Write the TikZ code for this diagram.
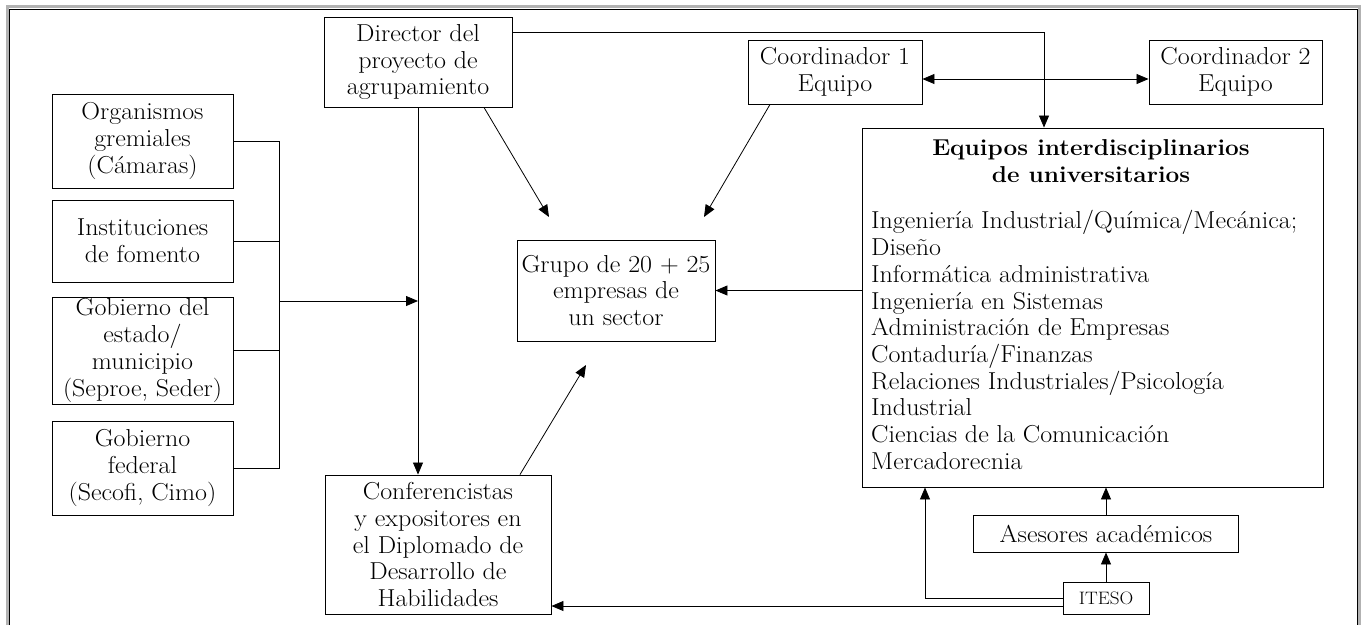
\documentclass[tikz,border=0pt]{standalone}
\usepackage{fontspec}
\setmainfont{Latin Modern Roman}[FakeStretch=1.06]
\usetikzlibrary{arrows.meta}

\begin{document}
\begin{tikzpicture}[x=1pt, y=-1pt,
  caja/.style={draw, line width=0.9pt, align=center, inner sep=0pt, font=\fontsize{24.5}{26.7}\selectfont},
  texto/.style={inner sep=0pt, font=\fontsize{24.5}{26.7}\selectfont},
  flecha/.style={line width=0.8pt, -{Triangle[length=12pt, width=10pt]}},
  doble/.style={line width=0.8pt, {Triangle[length=12pt, width=10pt]}-{Triangle[length=12pt, width=10pt]}},
  linea/.style={line width=0.8pt}]
\useasboundingbox (0,0) rectangle (1365,625);
\draw[gray!60, line width=3pt] (7.5,625) -- (7.5,6.5) -- (1359.5,6.5) -- (1359.5,625);
\draw[line width=0.8pt] (9.5,625) -- (9.5,9) -- (1357.5,9) -- (1357.5,625);

\node[caja, minimum width=188pt, minimum height=90pt] (dir) at (418,62) {Director del\\proyecto de\\agrupamiento};
\node[caja, minimum width=181pt, minimum height=94pt] (org) at (142.5,141) {Organismos\\gremiales\\(Cámaras)};
\node[caja, minimum width=181pt, minimum height=82pt] (inst) at (142.5,241) {Instituciones\\de fomento};
\node[caja, minimum width=181pt, minimum height=107pt] (gobe) at (142.5,350.5) {Gobierno del\\estado/\\municipio\\(Seproe, Seder)};
\node[caja, minimum width=181pt, minimum height=94pt] (gobf) at (142.5,468) {Gobierno\\federal\\(Secofi, Cimo)};
\node[caja, minimum width=198pt, minimum height=101pt] (grupo) at (616,290.5) {Grupo de 20 + 25\\empresas de\\un sector};
\node[caja, minimum width=226pt, minimum height=139pt] (conf) at (438,544.5) {Conferencistas\\y expositores en\\el Diplomado de\\Desarrollo de\\Habilidades};
\node[caja, minimum width=174pt, minimum height=64pt] (coordA) at (835,72) {Coordinador 1\\Equipo};
\node[caja, minimum width=173pt, minimum height=64pt] (coordB) at (1235.5,72) {Coordinador 2\\Equipo};
\node[caja, minimum width=461pt, minimum height=359pt] (equipos) at (1092.5,307.5) {};
\node[texto, align=center, font=\fontsize{23}{27}\selectfont\bfseries] (eqtit) at (1091,161.5) {Equipos interdisciplinarios\\de universitarios};
\node[texto, align=left, anchor=west] (eqlista) at (871,340) {Ingeniería Industrial/Química/Mecánica;\\Diseño\\Informática administrativa\\Ingeniería en Sistemas\\Administración de Empresas\\Contaduría/Finanzas\\Relaciones Industriales/Psicología\\Industrial\\Ciencias de la Comunicación\\Mercadorecnia};
\node[caja, minimum width=265pt, minimum height=37pt] (ases) at (1106,533.5) {Asesores académicos};
\node[caja, minimum width=86pt, minimum height=32pt, font=\fontsize{18}{22}\selectfont] (iteso) at (1106,598) {ITESO};

\coordinate (bus) at (279,301);
\coordinate (pA) at (549,217);
\coordinate (pB) at (704,217);
\coordinate (pC) at (586,365);

\draw[linea] (org.east) -- (org.east -| bus) -- (gobf.east -| bus) -- (gobf.east);
\draw[linea] (inst.east) -- (inst.east -| bus);
\draw[linea] (gobe.east) -- (gobe.east -| bus);
\draw[flecha] (bus) -- (bus -| dir.south);
\draw[flecha] (dir.south) -- (dir.south |- conf.north);
\draw[flecha] ([xshift=66pt]dir.south) -- (pA);
\draw[flecha] ([xshift=-65pt]coordA.south) -- (pB);
\draw[flecha] ([xshift=82pt]conf.north) -- (pC);
\draw[flecha] (equipos.west |- grupo.east) -- (grupo.east);
\draw[flecha] ([yshift=30pt]dir.east) -| ([xshift=-48.5pt]equipos.north);
\draw[doble] ([yshift=-7pt]coordA.east) -- ([yshift=-7pt]coordB.west);
\draw[flecha] (iteso.north) -- (iteso.north |- ases.south);
\draw[flecha] (ases.north) -- (ases.north |- equipos.south);
\draw[flecha] (iteso.west) -| ([xshift=-167.5pt]equipos.south);
\draw[flecha] ([yshift=-8pt]iteso.west) -- ([yshift=-8pt]iteso.west -| conf.east);
\end{tikzpicture}
\end{document}
